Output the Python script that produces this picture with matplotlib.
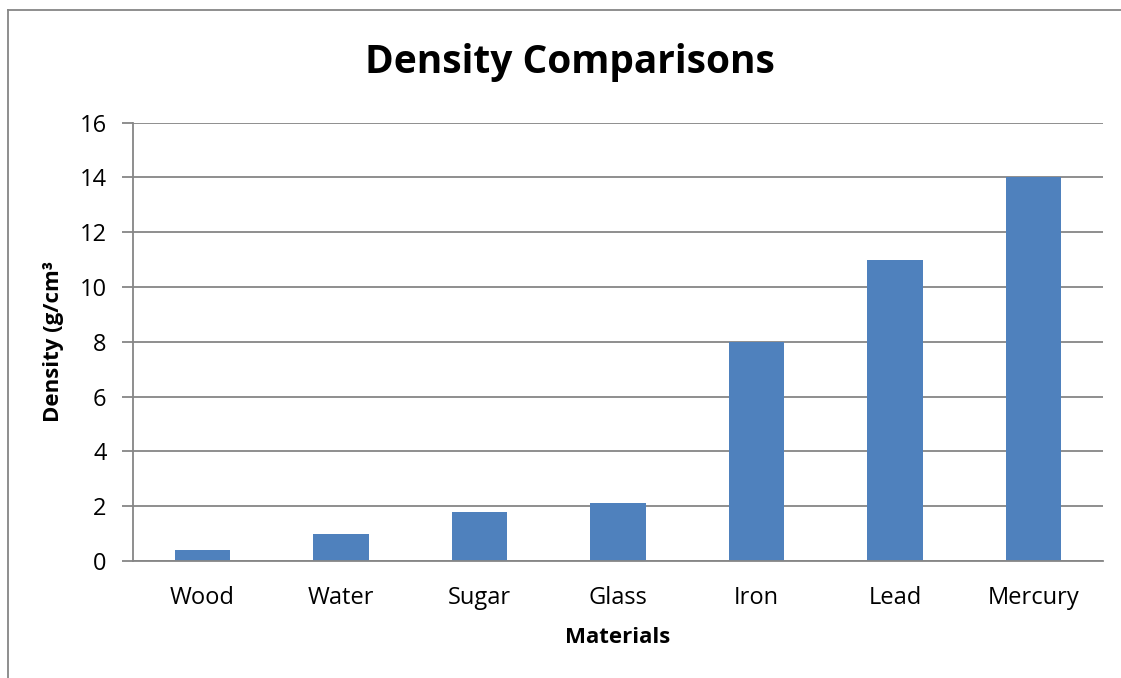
import matplotlib.pyplot as plt
import numpy as np

materials = ['Wood', 'Water', 'Sugar', 'Glass', 'Iron', 'Lead', 'Mercury']
density = [0.4, 1.0, 1.8, 2.1, 8.0, 11.0, 14.0]
yticks = [0, 2, 4, 6, 8, 10, 12, 14, 16]

plt.rcParams['font.family'] = ['Open Sans', 'DejaVu Sans']

fig = plt.figure(figsize=(11.21, 6.78), dpi=100)
ax = fig.add_axes([133 / 1121, 1 - 561 / 678, 970 / 1121, 438.5 / 678])

x = np.arange(len(materials))
ax.bar(x, density, width=0.4, color='#4F81BD', zorder=3)

ax.set_xlim(-0.5, len(materials) - 0.5)
ax.set_ylim(0, 16)
ax.set_yticks(yticks)
ax.set_xticks(x)
ax.set_xticklabels(materials, fontsize=17)
ax.tick_params(axis='y', labelsize=17, length=8, color='#868686', width=1.3, pad=11)
ax.tick_params(axis='x', length=0, pad=18)
ax.grid(axis='y', color='#868686', linewidth=1.3, zorder=0)

for side in ['top', 'right']:
    ax.spines[side].set_visible(False)
for side in ['left', 'bottom']:
    ax.spines[side].set_color('#868686')
    ax.spines[side].set_linewidth(1.3)
ax.spines['bottom'].set_zorder(4)

ax.set_xlabel('Materials', fontsize=16, fontweight='bold', labelpad=12)
ax.set_ylabel('Density (g/cm³', fontsize=16, fontweight='bold', labelpad=11)
fig.text(570 / 1121, 1 - 63 / 678, 'Density Comparisons', fontsize=28,
         fontweight='bold', ha='center', va='center')

# chart frame (left and top edges)
fig.add_artist(plt.Line2D([8 / 1121, 8 / 1121], [0, 1 - 10 / 678],
                          transform=fig.transFigure, color='#868686', linewidth=1.3))
fig.add_artist(plt.Line2D([8 / 1121, 1], [1 - 10 / 678, 1 - 10 / 678],
                          transform=fig.transFigure, color='#868686', linewidth=1.3))

fig.savefig('out.png', dpi=100)
